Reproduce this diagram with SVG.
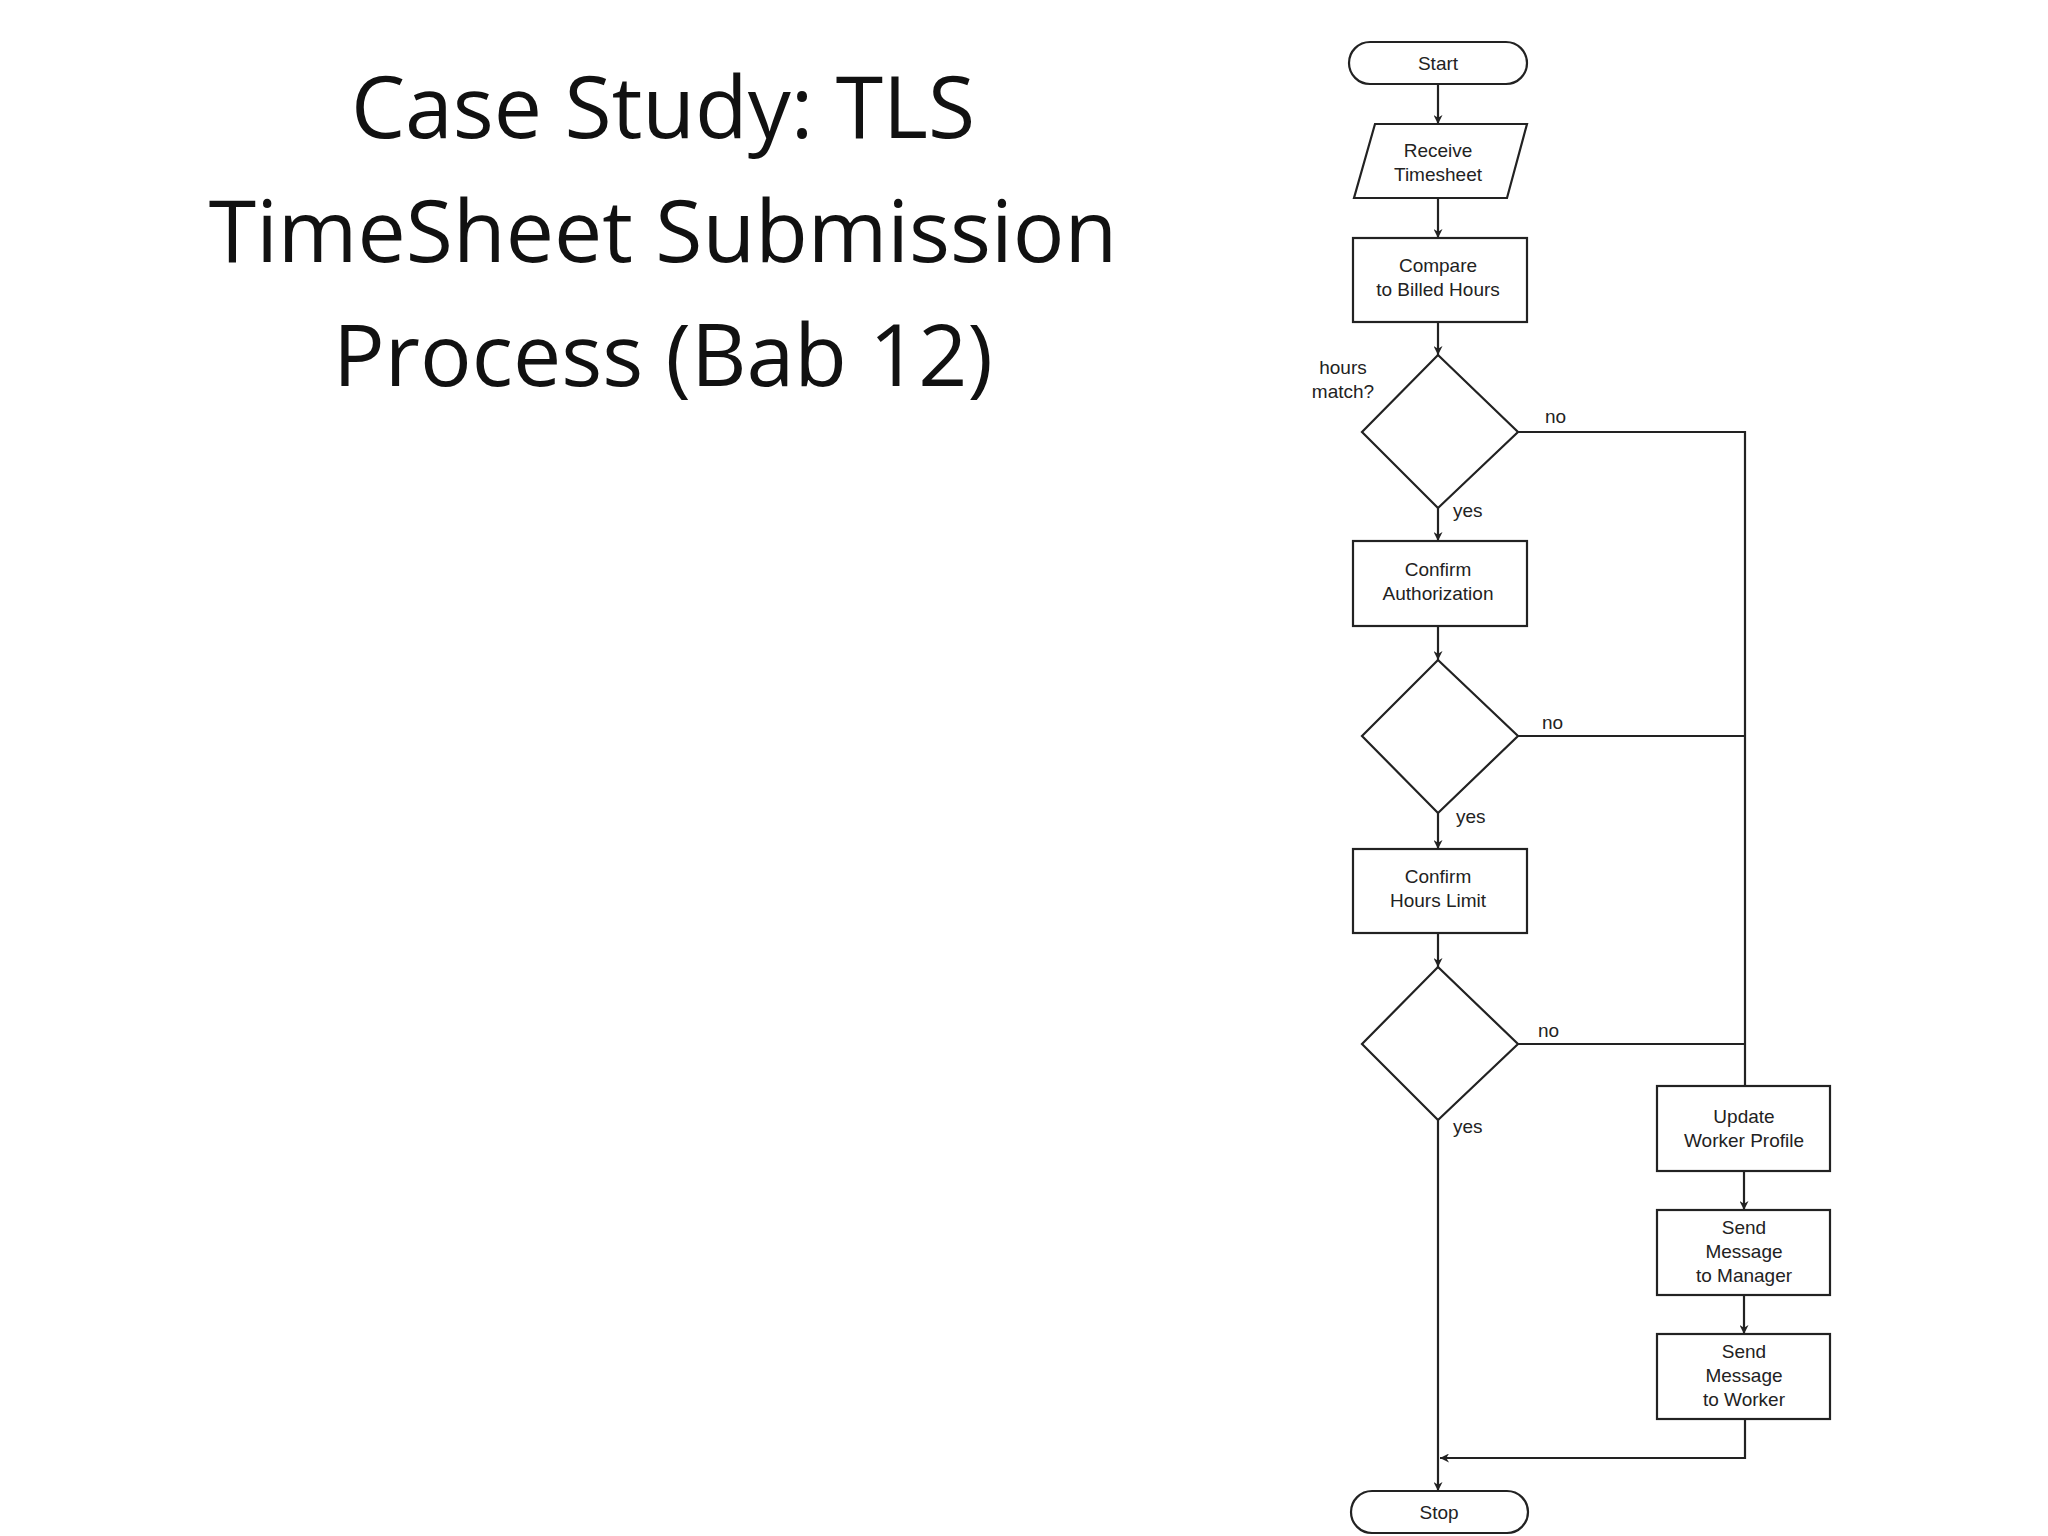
<svg xmlns="http://www.w3.org/2000/svg" width="2048" height="1536" viewBox="0 0 2048 1536">
<defs>
<marker id="ah" viewBox="0 0 10 10" refX="10" refY="5" markerWidth="9" markerHeight="9" markerUnits="userSpaceOnUse" orient="auto"><path d="M0,0 L10,5 L0,10 L3,5 z" fill="#222"/></marker>
<style>
.s{fill:#fff;stroke:#222;stroke-width:2.2}
.t{font-family:"Liberation Sans",Arial,sans-serif;font-size:19px;fill:#222;text-anchor:middle}
.l{font-family:"Liberation Sans",Arial,sans-serif;font-size:19px;fill:#222}
.c{fill:none;stroke:#222;stroke-width:2.2}
.h{font-family:"Open Sans",Calibri,sans-serif;font-size:86px;fill:#111;text-anchor:middle}
</style>
</defs>
<rect width="2048" height="1536" fill="#fff"/>
<g id="title">
<text class="h" x="663" y="138">Case Study: TLS</text>
<text class="h" x="663" y="262">TimeSheet Submission</text>
<text class="h" x="663" y="386">Process (Bab 12)</text>
</g>
<g id="start"><rect class="s" x="1349" y="42" width="178" height="42" rx="21"/><text class="t" x="1438" y="70">Start</text></g>
<g id="receive"><polygon class="s" points="1375,124 1527,124 1507,198 1354,198"/><text class="t" x="1438" y="157">Receive</text><text class="t" x="1438" y="181">Timesheet</text></g>
<g id="compare"><rect class="s" x="1353" y="238" width="174" height="84"/><text class="t" x="1438" y="272">Compare</text><text class="t" x="1438" y="296">to Billed Hours</text></g>
<g id="d1"><polygon class="s" points="1438,355 1518,432 1438,508 1362,432"/><text class="t" x="1343" y="374">hours</text><text class="t" x="1343" y="398">match?</text></g>
<g id="auth"><rect class="s" x="1353" y="541" width="174" height="85"/><text class="t" x="1438" y="576">Confirm</text><text class="t" x="1438" y="600">Authorization</text></g>
<g id="d2"><polygon class="s" points="1438,660 1518,736 1438,813 1362,736"/></g>
<g id="limit"><rect class="s" x="1353" y="849" width="174" height="84"/><text class="t" x="1438" y="883">Confirm</text><text class="t" x="1438" y="907">Hours Limit</text></g>
<g id="d3"><polygon class="s" points="1438,967 1518,1044 1438,1120 1362,1044"/></g>
<g id="update"><rect class="s" x="1657" y="1086" width="173" height="85"/><text class="t" x="1744" y="1123">Update</text><text class="t" x="1744" y="1147">Worker Profile</text></g>
<g id="mgr"><rect class="s" x="1657" y="1210" width="173" height="85"/><text class="t" x="1744" y="1234">Send</text><text class="t" x="1744" y="1258">Message</text><text class="t" x="1744" y="1282">to Manager</text></g>
<g id="wkr"><rect class="s" x="1657" y="1334" width="173" height="85"/><text class="t" x="1744" y="1358">Send</text><text class="t" x="1744" y="1382">Message</text><text class="t" x="1744" y="1406">to Worker</text></g>
<g id="stop"><rect class="s" x="1351" y="1491" width="177" height="42" rx="21"/><text class="t" x="1439" y="1519">Stop</text></g>
<g id="connectors">
<line class="c" x1="1438" y1="84" x2="1438" y2="124" marker-end="url(#ah)"/>
<line class="c" x1="1438" y1="198" x2="1438" y2="238" marker-end="url(#ah)"/>
<line class="c" x1="1438" y1="322" x2="1438" y2="355" marker-end="url(#ah)"/>
<line class="c" x1="1438" y1="508" x2="1438" y2="541" marker-end="url(#ah)"/>
<line class="c" x1="1438" y1="626" x2="1438" y2="660" marker-end="url(#ah)"/>
<line class="c" x1="1438" y1="813" x2="1438" y2="849" marker-end="url(#ah)"/>
<line class="c" x1="1438" y1="933" x2="1438" y2="967" marker-end="url(#ah)"/>
<line class="c" x1="1438" y1="1120" x2="1438" y2="1491" marker-end="url(#ah)"/>
<polyline class="c" points="1518,432 1745,432 1745,1086"/>
<line class="c" x1="1518" y1="736" x2="1745" y2="736"/>
<line class="c" x1="1518" y1="1044" x2="1745" y2="1044"/>
<line class="c" x1="1744" y1="1171" x2="1744" y2="1210" marker-end="url(#ah)"/>
<line class="c" x1="1744" y1="1295" x2="1744" y2="1334" marker-end="url(#ah)"/>
<polyline class="c" points="1745,1419 1745,1458 1440,1458" marker-end="url(#ah)"/>
<text class="l" x="1545" y="423">no</text>
<text class="l" x="1453" y="517">yes</text>
<text class="l" x="1542" y="729">no</text>
<text class="l" x="1456" y="823">yes</text>
<text class="l" x="1538" y="1037">no</text>
<text class="l" x="1453" y="1133">yes</text>
</g>
</svg>
